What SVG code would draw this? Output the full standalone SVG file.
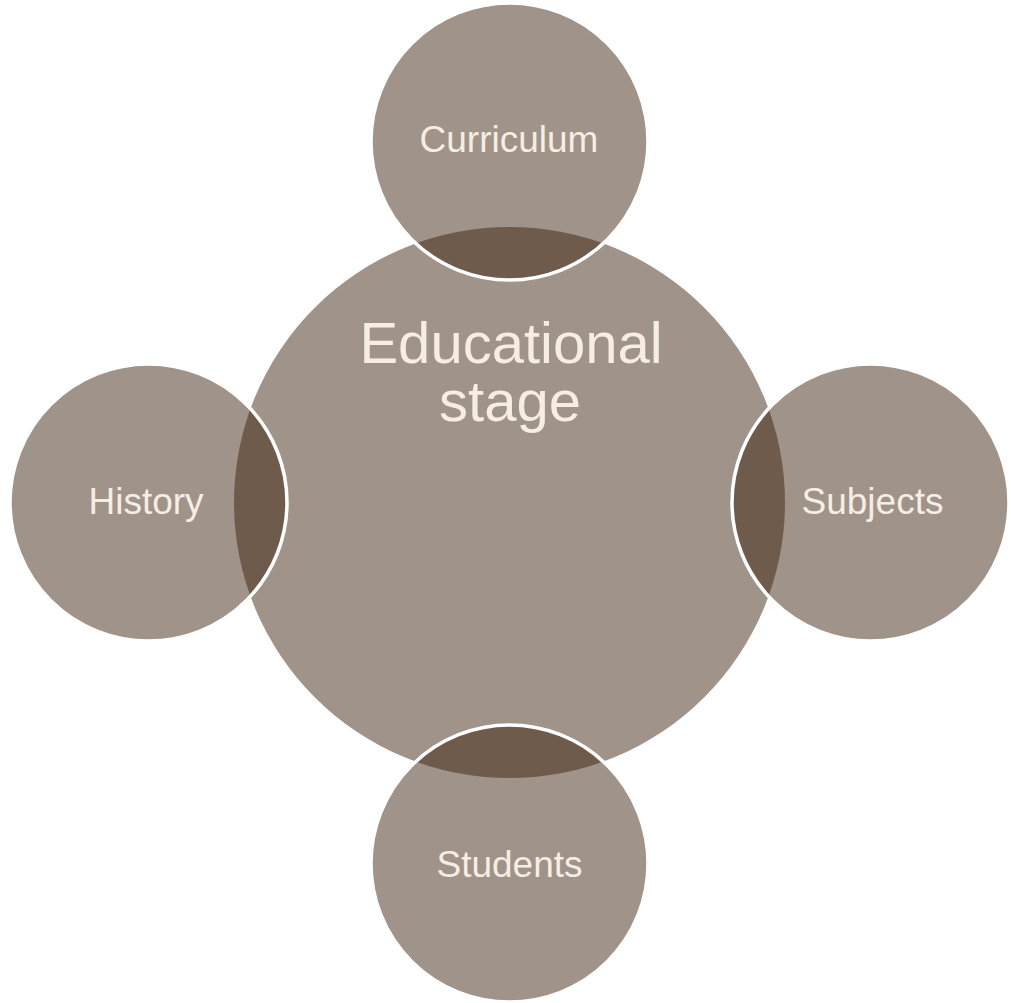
<svg xmlns="http://www.w3.org/2000/svg" width="1011" height="1003" viewBox="0 0 1011 1003">
<style>
.hub{fill:#a09389;}
.sat{fill:#3b200b;fill-opacity:0.484;stroke:#ffffff;stroke-width:3.5;}
.lbl{font-family:"Liberation Sans",Arial,sans-serif;fill:#f6eee2;text-anchor:middle;}
.s{font-size:37px;}
.b{font-size:58px;}
</style>
<rect width="1011" height="1003" fill="#ffffff"/>
<g id="connectors"></g>
<g id="node-center">
<circle class="hub" cx="509.5" cy="502.5" r="275.5"/>
<text class="lbl b"><tspan x="511" y="363">Educational</tspan><tspan x="510" y="421">stage</tspan></text>
</g>
<g id="node-curriculum">
<circle class="sat" cx="509.5" cy="141.5" r="138.5"/>
<text class="lbl s" x="509" y="152">Curriculum</text>
</g>
<g id="node-subjects">
<circle class="sat" cx="870.5" cy="502.5" r="138.5"/>
<text class="lbl s" x="872.5" y="514">Subjects</text>
</g>
<g id="node-students">
<circle class="sat" cx="509.5" cy="863.5" r="138.5"/>
<text class="lbl s" x="509.5" y="877">Students</text>
</g>
<g id="node-history">
<circle class="sat" cx="148.5" cy="502.5" r="138.5"/>
<text class="lbl s" x="146" y="514">History</text>
</g>
</svg>
